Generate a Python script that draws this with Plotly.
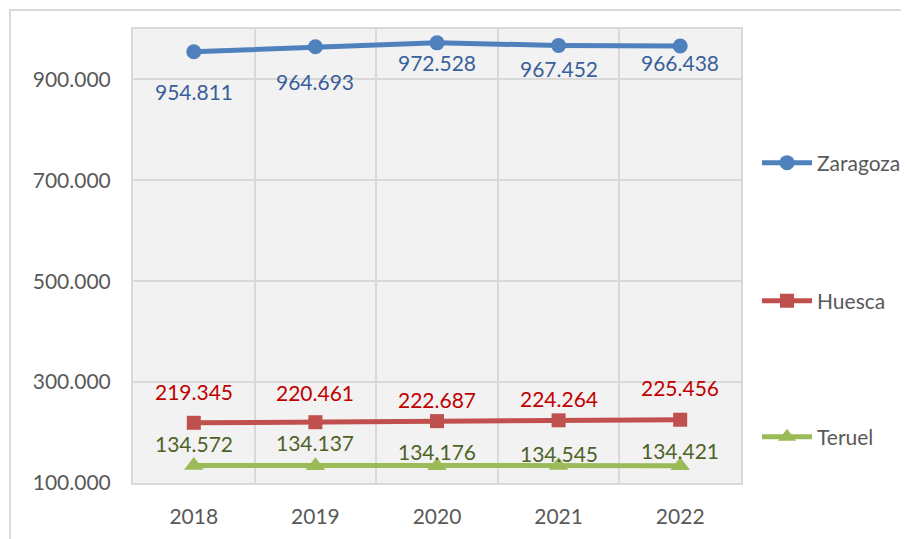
import plotly.graph_objects as go

years = ["2018", "2019", "2020", "2021", "2022"]
zaragoza = [954811, 964693, 972528, 967452, 966438]
huesca = [219345, 220461, 222687, 224264, 225456]
teruel = [134572, 134137, 134176, 134545, 134421]

# label vertical offsets (px, positive = up) as placed in the original chart
zar_shift = [-40, -35, -20, -23, -17]
hue_shift = [31, 30, 22, 22, 32]
ter_shift = [22, 23, 14, 12, 15]

FONT = "Lato"
OFF = 8  # page body margin
W, H = 909 - OFF, 539 - OFF
ML, MR, MT, MB = 133 - OFF, 168, 29 - OFF, 56
PW, PH = W - ML - MR, H - MT - MB


def fmt(v):
    return f"{v:,}".replace(",", ".")


series = [
    ("Zaragoza", zaragoza, "#4F81BD", "#3A5F9A", "circle", 15, zar_shift, "legend"),
    ("Huesca", huesca, "#C0504D", "#C00000", "square", 14, hue_shift, "legend2"),
    ("Teruel", teruel, "#9BBB59", "#4F6228", "triangle-up", 17, ter_shift, "legend3"),
]

fig = go.Figure()
annotations = []
for name, vals, lc, tc, sym, ms, shifts, lg in series:
    fig.add_trace(go.Scatter(
        x=years, y=vals, name=name, mode="lines+markers",
        line=dict(color=lc, width=5),
        marker=dict(symbol=sym, size=ms, color=lc),
        legend=lg,
    ))
    for i, (yv, s) in enumerate(zip(vals, shifts)):
        annotations.append(dict(
            x=i, y=yv, xref="x", yref="y", text=fmt(yv), showarrow=False,
            yshift=s, font=dict(family=FONT, size=21, color=tc),
        ))


def px_x(p):
    # p in page pixels
    return (p - OFF - ML) / PW


def px_y(p):
    return (H - MB - (p - OFF)) / PH


legend_common = dict(
    xanchor="left", yanchor="middle", x=px_x(757),
    font=dict(family=FONT, size=21, color="#595959"),
    bgcolor="rgba(0,0,0,0)", borderwidth=0, itemwidth=50,
)

fig.update_layout(
    width=W, height=H,
    margin=dict(l=ML, r=MR, t=MT, b=MB, autoexpand=False),
    paper_bgcolor="white",
    plot_bgcolor="#F2F2F2",
    font=dict(family=FONT, size=21, color="#595959"),
    separators=",.",
    showlegend=True,
    legend=dict(y=px_y(163), **legend_common),
    legend2=dict(y=px_y(301), **legend_common),
    legend3=dict(y=px_y(437), **legend_common),
    annotations=annotations,
    xaxis=dict(
        type="category", range=[-0.5, 4.5],
        showgrid=True, gridcolor="#D9D9D9", gridwidth=2,
        tickson="boundaries", ticks="",
        showline=True, linecolor="#D9D9D9", linewidth=2, mirror=True,
        tickfont=dict(family=FONT, size=21, color="#595959"),
        ticklabelstandoff=14, zeroline=False,
    ),
    yaxis=dict(
        range=[100000, 1000000],
        showgrid=True, gridcolor="#D9D9D9", gridwidth=2,
        showline=True, linecolor="#D9D9D9", linewidth=2, mirror=True,
        tickfont=dict(family=FONT, size=21, color="#595959"),
        ticklabelstandoff=16, zeroline=False, ticks="",
    ),
    shapes=[dict(
        type="rect", xref="paper", yref="paper",
        x0=px_x(10), x1=px_x(915), y0=px_y(545), y1=px_y(10),
        line=dict(color="#D9D9D9", width=2), fillcolor="rgba(0,0,0,0)",
        layer="below",
    )],
)

tick_vals = [100000, 300000, 500000, 700000, 900000]
fig.update_yaxes(tickvals=tick_vals, ticktext=[fmt(v) for v in tick_vals])

fig.write_html("out.html")
